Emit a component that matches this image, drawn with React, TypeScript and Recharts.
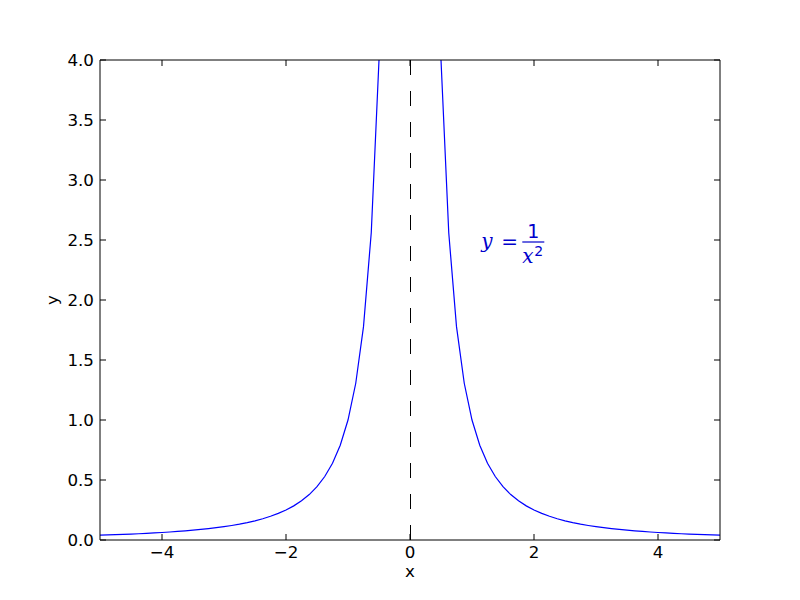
import { LineChart, Line, XAxis, YAxis, ReferenceLine, ReferenceDot } from 'recharts';

const leftX = [
  -5, -4.875, -4.75, -4.625, -4.5, -4.375, -4.25, -4.125, -4, -3.875, -3.75, -3.625, -3.5,
  -3.375, -3.25, -3.125, -3, -2.875, -2.75, -2.625, -2.5, -2.375, -2.25, -2.125, -2, -1.875,
  -1.75, -1.625, -1.5, -1.375, -1.25, -1.125, -1, -0.875, -0.75, -0.625, -0.5, -0.375,
];
const leftY = [
  0.04, 0.0421, 0.0443, 0.0467, 0.0494, 0.0522, 0.0554, 0.0588, 0.0625, 0.0666, 0.0711, 0.0761,
  0.0816, 0.0878, 0.0947, 0.1024, 0.1111, 0.121, 0.1322, 0.1451, 0.16, 0.1773, 0.1975, 0.2215,
  0.25, 0.2844, 0.3265, 0.3787, 0.4444, 0.5289, 0.64, 0.7901, 1, 1.3061, 1.7778, 2.56, 4, 7.1111,
];
const rightX = [
  0.375, 0.5, 0.625, 0.75, 0.875, 1, 1.125, 1.25, 1.375, 1.5, 1.625, 1.75, 1.875, 2, 2.125,
  2.25, 2.375, 2.5, 2.625, 2.75, 2.875, 3, 3.125, 3.25, 3.375, 3.5, 3.625, 3.75, 3.875, 4,
  4.125, 4.25, 4.375, 4.5, 4.625, 4.75, 4.875, 5,
];
const rightY = [
  7.1111, 4, 2.56, 1.7778, 1.3061, 1, 0.7901, 0.64, 0.5289, 0.4444, 0.3787, 0.3265, 0.2844,
  0.25, 0.2215, 0.1975, 0.1773, 0.16, 0.1451, 0.1322, 0.121, 0.1111, 0.1024, 0.0947, 0.0878,
  0.0816, 0.0761, 0.0711, 0.0666, 0.0625, 0.0588, 0.0554, 0.0522, 0.0494, 0.0467, 0.0443,
  0.0421, 0.04,
];

const xTicks = [-4, -2, 0, 2, 4];
const yTicks = [0, 0.5, 1, 1.5, 2, 2.5, 3, 3.5, 4];

const data = [
  ...leftX.map((x, i) => ({ x, y: leftY[i] })),
  { x: 0, y: null },
  ...rightX.map((x, i) => ({ x, y: rightY[i] })),
];

const FONT = '"DejaVu Sans", sans-serif';
const FS = 16.7;
const M = 6; // gap between axis and tick label
const TL = 6; // inward tick length
const fmtX = (v: number) => (v < 0 ? `\u2212${Math.abs(v)}` : `${v}`);

// matplotlib-style ticks: marks point into the plot
const BottomTick = ({ x, y, payload }: any) => (
  <g>
    <line x1={x} x2={x} y1={y - M} y2={y - M - TL} stroke="#000" />
    <text x={x} y={y} dy="0.71em" textAnchor="middle" fill="#000" fontSize={FS} fontFamily={FONT}>
      {fmtX(payload.value)}
    </text>
  </g>
);
const LeftTick = ({ x, y, payload }: any) => (
  <g>
    <line x1={x + M} x2={x + M + TL} y1={y} y2={y} stroke="#000" />
    <text x={x} y={y} dy="0.355em" textAnchor="end" fill="#000" fontSize={FS} fontFamily={FONT}>
      {payload.value.toFixed(1)}
    </text>
  </g>
);
const TopTick = ({ x, y }: any) => (
  <line x1={x} x2={x} y1={y + M} y2={y + M + TL} stroke="#000" />
);
const RightTick = ({ x, y }: any) => (
  <line x1={x - M} x2={x - M - TL} y1={y} y2={y} stroke="#000" />
);

function Formula({ viewBox }: any) {
  const { x, y } = viewBox;
  const serif = '"DejaVu Serif", serif';
  const c = '#0000cc';
  return (
    <g fill={c}>
      <text x={x} y={y - 4} fontFamily={serif} fontStyle="italic" fontSize={20}>y</text>
      <text x={x + 20} y={y - 4} fontFamily={FONT} fontSize={20}>=</text>
      <text x={x + 52} y={y - 14} fontFamily={FONT} fontSize={19} textAnchor="middle">1</text>
      <line x1={x + 41} x2={x + 63} y1={y - 10} y2={y - 10} stroke={c} strokeWidth={1.2} />
      <text x={x + 41} y={y + 11} fontFamily={serif} fontStyle="italic" fontSize={20}>x</text>
      <text x={x + 53} y={y + 4} fontFamily={FONT} fontSize={14}>2</text>
    </g>
  );
}

export default function App() {
  return (
    <div style={{ position: 'absolute', left: 0, top: 0, background: '#fff' }}>
      <LineChart
        width={800}
        height={600}
        data={data}
        margin={{ top: 59, right: 79, bottom: 0, left: 0 }}
      >
        <XAxis
          type="number"
          dataKey="x"
          domain={[-5, 5]}
          ticks={xTicks}
          allowDataOverflow
          height={60}
          stroke="#000"
          tickLine={false}
          tickSize={0}
          tickMargin={M}
          tick={<BottomTick />}
          label={{ value: 'x', position: 'center', dy: 1, fill: '#000', fontSize: FS, fontFamily: FONT }}
        />
        <XAxis
          xAxisId="top"
          orientation="top"
          type="number"
          dataKey="x"
          domain={[-5, 5]}
          ticks={xTicks}
          allowDataOverflow
          height={1}
          stroke="#000"
          tickLine={false}
          tickSize={0}
          tickMargin={M}
          tick={<TopTick />}
        />
        <YAxis
          type="number"
          domain={[0, 4]}
          ticks={yTicks}
          allowDataOverflow
          width={100}
          stroke="#000"
          tickLine={false}
          tickSize={0}
          tickMargin={M}
          tick={<LeftTick />}
          label={{ value: 'y', angle: -90, position: 'center', dx: 2, fill: '#000', fontSize: FS, fontFamily: FONT }}
        />
        <YAxis
          yAxisId="right"
          orientation="right"
          type="number"
          domain={[0, 4]}
          ticks={yTicks}
          allowDataOverflow
          width={1}
          stroke="#000"
          tickLine={false}
          tickSize={0}
          tickMargin={M}
          tick={<RightTick />}
        />
        <ReferenceLine x={0} stroke="#000" strokeWidth={1} strokeDasharray="15 16" shapeRendering="crispEdges" />
        <Line
          type="linear"
          dataKey="y"
          stroke="#0000ff"
          strokeWidth={1.2}
          dot={false}
          connectNulls={false}
          isAnimationActive={false}
        />
        <ReferenceDot x={1.15} y={2.4} r={0} stroke="none" label={<Formula />} />
      </LineChart>
    </div>
  );
}
